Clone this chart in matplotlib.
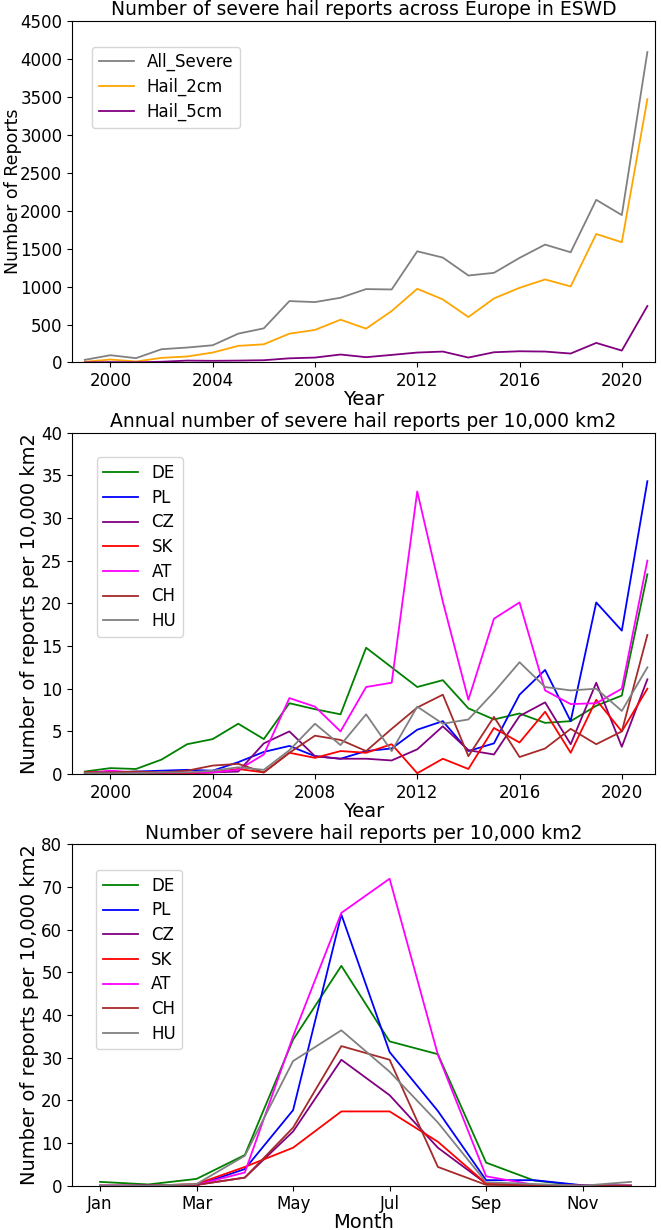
import matplotlib
matplotlib.use("Agg")
import matplotlib.pyplot as plt

# panel 1: Europe totals
years = list(range(1999, 2022))
all_severe = [35, 96, 57, 175, 197, 227, 380, 450, 809, 796, 853, 967, 962,
              1465, 1382, 1146, 1181, 1378, 1553, 1452, 2143, 1942, 4090]
hail_2cm = [9, 39, 13, 61, 79, 131, 219, 240, 380, 429, 564, 446, 678,
            971, 831, 599, 844, 984, 1094, 1002, 1693, 1584, 3469]
hail_5cm = [2, 5, 3, 10, 25, 22, 25, 30, 55, 65, 105, 70, 100,
            131, 144, 65, 135, 148, 144, 118, 258, 157, 744]

# panel 2: annual reports per 10,000 km2
countries = ['DE', 'PL', 'CZ', 'SK', 'AT', 'CH', 'HU']
colors = ['green', 'blue', 'purple', 'red', 'magenta', 'brown', 'grey']
annual = {
    'DE': [0.3, 0.7, 0.6, 1.7, 3.5, 4.1, 5.9, 4.1, 8.3, 7.6, 7.0, 14.8, 12.5,
           10.2, 11.0, 7.7, 6.4, 7.1, 6.0, 6.2, 8.0, 9.2, 23.4],
    'PL': [0.1, 0.2, 0.3, 0.4, 0.5, 0.4, 1.4, 2.6, 3.3, 2.1, 1.8, 2.7, 3.0,
           5.2, 6.2, 2.7, 3.6, 9.3, 12.2, 6.2, 20.1, 16.8, 34.3],
    'CZ': [0.1, 0.1, 0.1, 0.1, 0.1, 0.2, 0.3, 3.6, 5.0, 2.1, 1.8, 1.8, 1.6,
           2.9, 5.6, 2.8, 2.3, 6.8, 8.4, 3.5, 10.7, 3.2, 11.1],
    'SK': [0.2, 0.3, 0.1, 0.1, 0.1, 0.2, 0.6, 0.2, 2.5, 1.9, 2.7, 2.5, 3.5,
           0.1, 1.8, 0.6, 5.4, 3.7, 7.3, 2.5, 8.7, 5.0, 10.0],
    'AT': [0.1, 0.4, 0.2, 0.2, 0.2, 0.2, 0.5, 2.3, 8.9, 7.9, 5.0, 10.2, 10.7,
           33.1, 20.2, 8.7, 18.2, 20.1, 9.8, 8.2, 8.3, 10.0, 25.0],
    'CH': [0.2, 0.2, 0.3, 0.2, 0.4, 1.0, 1.2, 0.2, 2.5, 4.5, 4.0, 2.7, 5.3,
           7.8, 9.3, 2.1, 6.7, 2.0, 3.0, 5.3, 3.5, 5.0, 16.3],
    'HU': [0.1, 0.1, 0.1, 0.2, 0.2, 0.4, 0.8, 0.5, 2.8, 5.9, 3.4, 7.0, 2.7,
           7.9, 5.9, 6.4, 9.6, 13.1, 10.2, 9.8, 10.0, 7.4, 12.5],
}

# panel 3: monthly reports per 10,000 km2
months = list(range(1, 13))
month_ticks = [1, 3, 5, 7, 9, 11]
month_labels = ['Jan', 'Mar', 'May', 'Jul', 'Sep', 'Nov']
monthly = {
    'DE': [0.9, 0.3, 1.6, 7.2, 34.2, 51.5, 33.8, 30.8, 5.4, 1.2, 0.0, 0.0],
    'PL': [0.0, 0.0, 0.1, 3.9, 17.7, 63.5, 31.3, 17.5, 1.3, 1.3, 0.1, 0.0],
    'CZ': [0.0, 0.0, 0.2, 1.9, 12.7, 29.5, 21.2, 8.9, 0.5, 0.2, 0.0, 0.0],
    'SK': [0.0, 0.0, 0.4, 4.4, 8.9, 17.4, 17.4, 10.3, 0.5, 0.2, 0.0, 0.0],
    'AT': [0.0, 0.0, 0.2, 3.1, 35.0, 63.9, 71.9, 30.7, 2.2, 0.2, 0.0, 0.0],
    'CH': [0.0, 0.0, 0.2, 1.9, 13.6, 32.7, 29.5, 4.4, 0.2, 0.1, 0.0, 0.0],
    'HU': [0.0, 0.0, 0.4, 7.0, 29.2, 36.4, 26.7, 14.8, 0.8, 0.4, 0.0, 0.9],
}

plt.rcParams['font.size'] = 12
plt.rcParams['axes.titlesize'] = 13.5
plt.rcParams['axes.labelsize'] = 14
plt.rcParams['lines.linewidth'] = 1.3

fig, axes = plt.subplots(3, 1, figsize=(6.61, 12.3), dpi=100)
fig.subplots_adjust(left=0.109, right=0.991, top=0.983, bottom=0.036, hspace=0.205)

leg_kw = dict(loc='upper left', borderaxespad=0, labelspacing=0.4, handlelength=2.1)

ax = axes[0]
ax.plot(years, all_severe, color='grey', label='All_Severe')
ax.plot(years, hail_2cm, color='orange', label='Hail_2cm')
ax.plot(years, hail_5cm, color='purple', label='Hail_5cm')
ax.set_xlim(1998.5, 2021.3)
ax.set_ylim(0, 4500)
ax.set_xticks([2000, 2004, 2008, 2012, 2016, 2020])
ax.set_title('Number of severe hail reports across Europe in ESWD', pad=4)
ax.set_xlabel('Year', labelpad=0)
ax.set_ylabel('Number of Reports', fontsize=12.5)
ax.yaxis.set_label_coords(-0.086, 0.5)
ax.legend(bbox_to_anchor=(0.034, 0.925), **leg_kw)

ax = axes[1]
for c, col in zip(countries, colors):
    ax.plot(years, annual[c], color=col, label=c)
ax.set_xlim(1998.5, 2021.3)
ax.set_ylim(0, 40)
ax.set_xticks([2000, 2004, 2008, 2012, 2016, 2020])
ax.set_title('Annual number of severe hail reports per 10,000 km2', pad=4)
ax.set_xlabel('Year', labelpad=0)
ax.set_ylabel('Number of reports per 10,000 km2', labelpad=1.5)
ax.legend(bbox_to_anchor=(0.042, 0.927), **leg_kw)

ax = axes[2]
for c, col in zip(countries, colors):
    ax.plot(months, monthly[c], color=col, label=c)
ax.set_xlim(0.42, 12.5)
ax.set_ylim(0, 80)
ax.set_xticks(month_ticks)
ax.set_xticklabels(month_labels)
ax.set_title('Number of severe hail reports per 10,000 km2', pad=4)
ax.set_xlabel('Month', labelpad=0)
ax.set_ylabel('Number of reports per 10,000 km2', labelpad=1.5)
ax.legend(bbox_to_anchor=(0.041, 0.924), **leg_kw)

plt.savefig('out.png')
